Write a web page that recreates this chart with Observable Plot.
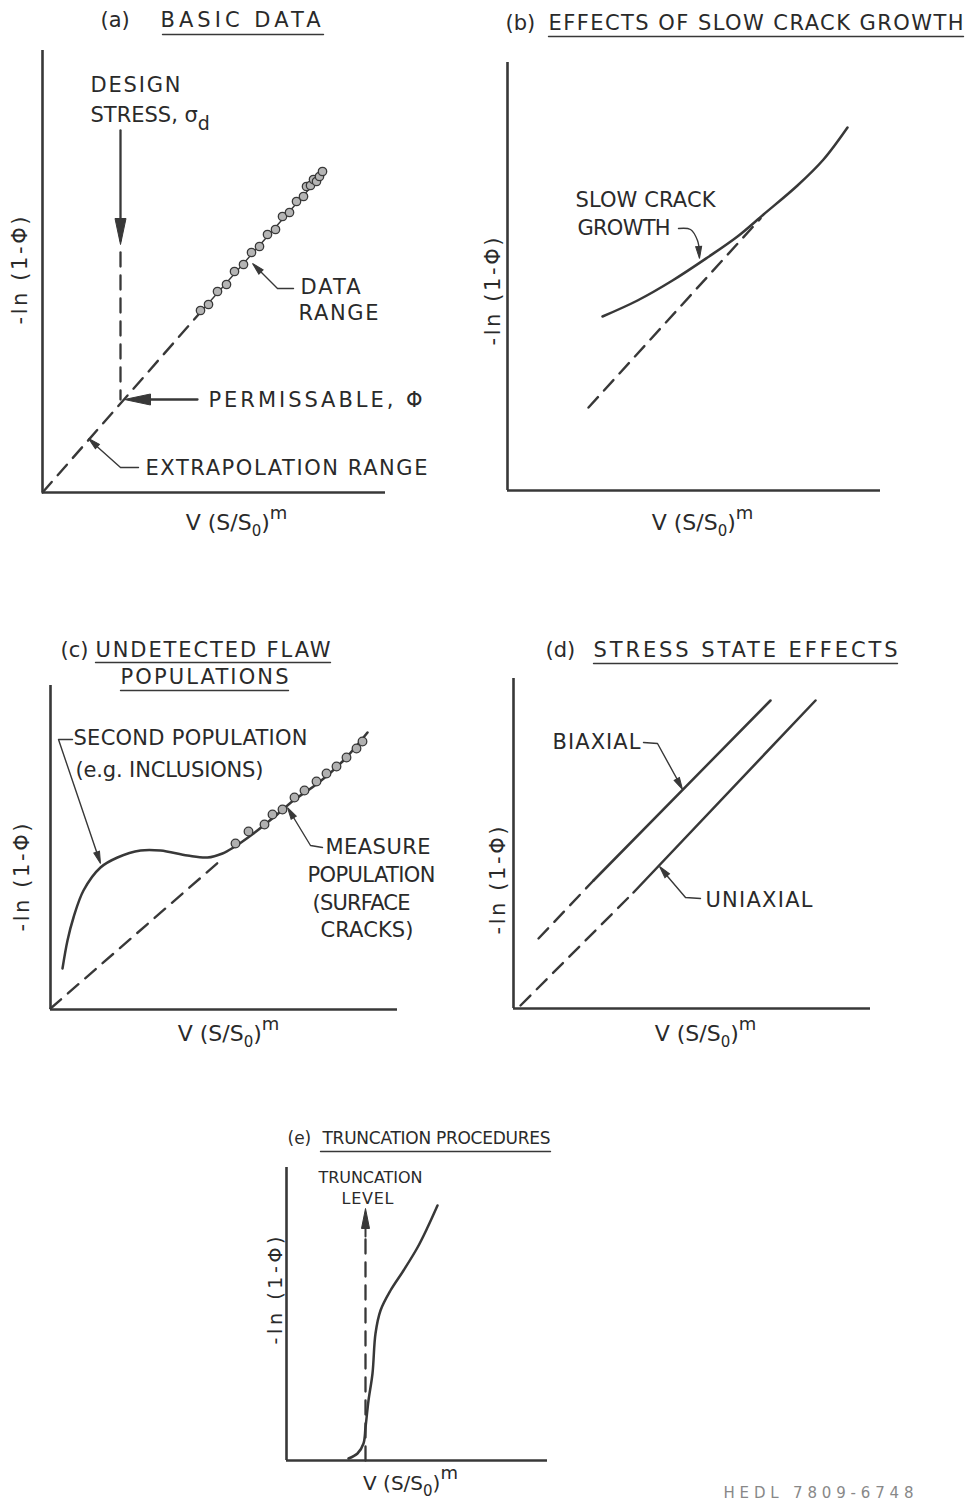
<!DOCTYPE html>
<html><head><meta charset="utf-8">
<script src="https://cdn.jsdelivr.net/npm/d3@7"></script>
<script src="https://cdn.jsdelivr.net/npm/@observablehq/plot@0.6"></script>
<style>
html,body{margin:0;padding:0;background:#fff;}
#page{position:relative;width:966px;height:1502px;overflow:hidden;background:#fff;}
#page > svg{position:absolute;}
</style></head><body><div id="page"></div>
<script>
// ---------- shared labels ----------
const YLABEL = "-ln (1-Φ)";
const XLABEL = "V (S/S0)m";

// ---------- (a) BASIC DATA ----------
const aFitDash = [{x:0,y:0},{x:156,y:178}];
const aFitLine = [{x:156,y:178},{x:283,y:322}];
const aData = [
  {x:158,y:182},{x:166,y:188},{x:175,y:201},{x:184,y:208},{x:192,y:221},{x:201,y:228},
  {x:209,y:240},{x:217,y:246},{x:225,y:258},{x:233,y:263},{x:240,y:276},{x:247,y:280},
  {x:254,y:291},{x:261,y:296},{x:264,y:306},{x:268,y:307},{x:271,y:313},{x:274,y:311},
  {x:277,y:316},{x:280,y:321}
];
const aDesignShaft = [{x:78,y:362},{x:78,y:252}];
const aDesignDash = [{x:78,y:240},{x:78,y:93}];
const aPermShaft = [{x:155,y:93},{x:90,y:93}];
const aExtrapLeader = [{x:96,y:25},{x:78,y:25},{x:50,y:50}];
const aRangeLeader = [{x:251,y:204},{x:235,y:204},{x:213,y:226}];
const aBigHeads = [{x1:78,y1:362,x:78,y:248},{x1:155,y1:93,x:82,y:93}];
const aSmallHeads = [{x1:78,y1:25,x:46,y:54},{x1:235,y1:204,x:210,y:229}];
const aLabels = [
  {x:48,y:407,t:"DESIGN"},{x:48,y:377,t:"STRESS, σd"},
  {x:258,y:205,t:"DATA"},{x:256,y:179,t:"RANGE"},
  {x:166,y:92,t:"PERMISSABLE, Φ"},{x:103,y:24,t:"EXTRAPOLATION RANGE"}
];
const aTitle = [{x:58,y:472,t:"(a)"},{x:118,y:472,t:"BASIC DATA"}];
const aUnder = [{x:120,y:458},{x:281,y:458}];
const aAxisLabels = {y:{x:-22,y:222}, x:{x:194,y:-30}};

// ---------- (b) EFFECTS OF SLOW CRACK GROWTH ----------
const bCurve = [{x:95,y:174},{x:130,y:190},{x:165,y:210},{x:200,y:233},{x:230,y:254},
  {x:256,y:276},{x:290,y:305},{x:316,y:331},{x:340,y:363}];
const bDash = [{x:81,y:83},{x:253,y:272}];
const bLeader = [{x:171,y:262},{x:183,y:261},{x:190,y:250},{x:192,y:238}];
const bHeads = [{x1:191,y1:246,x:192,y:232}];
const bLabels = [{x:68,y:290,t:"SLOW CRACK"},{x:70,y:262,t:"GROWTH"}];
const bTitle = [{x:-2,y:467,t:"(b)"},{x:41,y:467,t:"EFFECTS OF SLOW CRACK GROWTH"}];
const bUnder = [{x:41,y:454},{x:456,y:454}];
const bAxisLabels = {y:{x:-14,y:199}, x:{x:195,y:-32}};

// ---------- (c) UNDETECTED FLAW POPULATIONS ----------
const cCurve = [{x:12,y:41},{x:17,y:69},{x:23,y:92},{x:33,y:119},{x:50,y:142},{x:67,y:152},
  {x:90,y:159},{x:110,y:159},{x:137,y:154},{x:157,y:152},{x:172,y:156},{x:183,y:162},
  {x:203,y:176},{x:223,y:192},{x:243,y:209},{x:267,y:226},{x:293,y:249},{x:317,y:277}];
const cDash = [{x:0,y:1},{x:170,y:149}];
const cData = [{x:185,y:166},{x:198,y:178},{x:214,y:185},{x:222,y:195},{x:232,y:200},
  {x:244,y:212},{x:254,y:219},{x:266,y:228},{x:276,y:236},{x:286,y:243},{x:296,y:252},
  {x:306,y:261},{x:312,y:268}];
const cLeaderSecond = [{x:22,y:270},{x:8,y:270},{x:48,y:152}];
const cLeaderMeasure = [{x:272,y:162},{x:260,y:164},{x:240,y:197}];
const cHeads = [{x1:8,y1:270,x:50,y:146},{x1:260,y1:164,x:237,y:202}];
const cLabels = [
  {x:23,y:271,t:"SECOND POPULATION"},{x:25,y:239,t:"(e.g. INCLUSIONS)"},
  {x:275,y:162,t:"MEASURE"},{x:257,y:134,t:"POPULATION"},
  {x:262,y:106,t:"(SURFACE"},{x:270,y:79,t:"CRACKS)"}
];
const cTitle = [{x:10,y:359,t:"(c)"},{x:45,y:359,t:"UNDETECTED FLAW"},{x:70,y:332,t:"POPULATIONS"}];
const cUnder1 = [{x:45,y:347},{x:280,y:347}];
const cUnder2 = [{x:70,y:319},{x:238,y:319}];
const cAxisLabels = {y:{x:-28,y:132}, x:{x:178,y:-24}};

// ---------- (d) STRESS STATE EFFECTS ----------
const dBiSolid = [{x:80,y:128},{x:257,y:308}];
const dBiDash = [{x:25,y:70},{x:80,y:128}];
const dUniSolid = [{x:120,y:116},{x:302,y:308}];
const dUniDash = [{x:7,y:3},{x:120,y:116}];
const dLeaderBi = [{x:130,y:266},{x:144,y:265},{x:166,y:225}];
const dLeaderUni = [{x:187,y:110},{x:172,y:111},{x:149,y:138}];
const dHeads = [{x1:144,y1:265,x:169,y:219},{x1:172,y1:111,x:146,y:142}];
const dLabels = [{x:39,y:266,t:"BIAXIAL"},{x:192,y:108,t:"UNIAXIAL"}];
const dTitle = [{x:32,y:358,t:"(d)"},{x:80,y:358,t:"STRESS STATE EFFECTS"}];
const dUnder = [{x:80,y:345},{x:384,y:345}];
const dAxisLabels = {y:{x:-15,y:128}, x:{x:192,y:-25}};

// ---------- (e) TRUNCATION PROCEDURES ----------
const eCurve = [{x:62,y:2},{x:71,y:7},{x:77,y:17},{x:79,y:33},{x:82,y:60},{x:86,y:87},
  {x:89,y:127},{x:94,y:150},{x:104,y:170},{x:117,y:190},{x:131,y:213},{x:141,y:233},{x:151,y:255}];
const eTruncDash = [{x:79,y:0},{x:79,y:224}];
const eTruncShaft = [{x:79,y:224},{x:79,y:240}];
const eHeads = [{x1:79,y1:224,x:79,y:252}];
const eLabels = [{x:32,y:283,t:"TRUNCATION"},{x:55,y:262,t:"LEVEL"}];
const eTitle = [{x:1,y:322,t:"(e)"},{x:36,y:322,t:"TRUNCATION PROCEDURES"}];
const eUnder = [{x:34,y:309},{x:264,y:309}];
const eAxisLabels = {y:{x:-11,y:170}, x:{x:124,y:-23}};
const eDocNo = [{x:437,y:-33,t:"HEDL 7809-6748"}];

// ---------- styling ----------
const INK = "#383838";
const TXT = "#2a2a2a";
const FONT = "DejaVu Sans, Verdana, sans-serif";
const FIT = {
  "DESIGN":90, "DATA":60, "RANGE":80, "PERMISSABLE, Φ":214, "EXTRAPOLATION RANGE":282,
  "BASIC DATA":160, "SLOW CRACK":140, "GROWTH":93, "EFFECTS OF SLOW CRACK GROWTH":415,
  "SECOND POPULATION":234, "(e.g. INCLUSIONS)":188, "MEASURE":105, "POPULATION":128,
  "(SURFACE":98, "CRACKS)":93, "UNDETECTED FLAW":235, "POPULATIONS":168,
  "BIAXIAL":88, "UNIAXIAL":107, "STRESS STATE EFFECTS":304,
  "TRUNCATION":104, "LEVEL":52, "TRUNCATION PROCEDURES":228,
  [YLABEL]:108, "HEDL 7809-6748":190
};
const RICH = {
  [XLABEL]: [["V (S/S",0,null],["0",6,15],[")",-6,null],["m",-11,18]],
  "STRESS, σd": [["STRESS, σ",0,null],["d",8,19]]
};

const page = document.getElementById("page");
const ang = d => Math.atan2(d.x - d.x1, d.y - d.y1) * 180 / Math.PI;
function heads(data, L, W) {
  return Plot.dot(data, {x:"x", y:"y", rotate: ang, r: 1,
    symbol: {draw(c){ c.moveTo(0,0); c.lineTo(-W/2,L); c.lineTo(W/2,L); c.closePath(); }},
    fill: INK, stroke: INK, strokeWidth: 1});
}
const solid = (data, w=2.5, curve="linear") => Plot.line(data, {x:"x", y:"y", stroke:INK, strokeWidth:w, strokeLinecap:"round", curve});
const dashed = (data, w=2.4) => Plot.line(data, {x:"x", y:"y", stroke:INK, strokeWidth:w, strokeDasharray:"14,9"});
const thin = data => Plot.line(data, {x:"x", y:"y", stroke:INK, strokeWidth:1.4});
const texts = (data, size=21, opts={}) => Plot.text(data, {x:"x", y:"y", text:"t", textAnchor:"start",
  fontSize:size, fill:TXT, fontFamily:FONT, ...opts});
const axisLabels = (al, ys=21, xs=22) => [
  Plot.text([al.y], {x:"x", y:"y", text:() => YLABEL, rotate:-90, textAnchor:"middle", fontSize:ys, fill:TXT, fontFamily:FONT}),
  Plot.text([al.x], {x:"x", y:"y", text:() => XLABEL, textAnchor:"middle", fontSize:xs, fill:TXT, fontFamily:FONT})
];
const axes = () => [
  Plot.ruleY([0], {stroke:INK, strokeWidth:2.6}),
  Plot.ruleX([0], {stroke:INK, strokeWidth:2.6})
];

function post(svg){
  d3.select(svg).selectAll("text").each(function(){
    const t = this.textContent;
    if (RICH[t]) {
      const el = d3.select(this); el.text(null);
      for (const [s, dy, fs] of RICH[t]) {
        const ts = el.append("tspan").text(s);
        if (dy) ts.attr("dy", dy);
        if (fs) ts.attr("font-size", fs);
      }
    }
    if (FIT[t]) { this.setAttribute("textLength", FIT[t]); this.setAttribute("lengthAdjust", "spacing"); }
  });
}

function panel({left, top, width, height, ox, oy, lx, ly, marks}) {
  const svg = Plot.plot({
    width, height,
    marginLeft: ox - left, marginTop: oy - ly - top,
    marginRight: left + width - (ox + lx), marginBottom: top + height - oy,
    x: {domain: [0, lx], axis: null}, y: {domain: [0, ly], axis: null},
    style: {background: "transparent", fontFamily: FONT, overflow: "visible"},
    marks
  });
  svg.style.left = left + "px"; svg.style.top = top + "px";
  page.append(svg);
  post(svg);
}

// (a)
panel({left:0, top:0, width:480, height:545, ox:42, oy:492, lx:343, ly:442, marks:[
  ...axes(),
  dashed(aFitDash), thin(aFitLine),
  Plot.dot(aData, {x:"x", y:"y", r:4.2, fill:"#b5b5b5", stroke:INK, strokeWidth:1.3}),
  solid(aDesignShaft, 2.3), dashed(aDesignDash, 2.3), solid(aPermShaft, 2.3),
  thin(aExtrapLeader), thin(aRangeLeader),
  heads(aBigHeads, 26, 11), heads(aSmallHeads, 12, 6),
  texts(aLabels), texts(aTitle), thin(aUnder),
  ...axisLabels(aAxisLabels)
]});

// (b)
panel({left:480, top:0, width:486, height:545, ox:507, oy:490, lx:373, ly:428, marks:[
  ...axes(),
  solid(bCurve, 2.5, "catmull-rom"), dashed(bDash),
  Plot.line(bLeader, {x:"x", y:"y", stroke:INK, strokeWidth:1.4, curve:"catmull-rom"}),
  heads(bHeads, 12, 6),
  texts(bLabels), texts(bTitle), thin(bUnder),
  ...axisLabels(bAxisLabels)
]});

// (c)
panel({left:0, top:600, width:480, height:460, ox:50, oy:1009, lx:347, ly:324, marks:[
  ...axes(),
  solid(cCurve, 2.5, "catmull-rom"), dashed(cDash),
  Plot.dot(cData, {x:"x", y:"y", r:4.3, fill:"#b0b0b0", stroke:INK, strokeWidth:1.3}),
  thin(cLeaderSecond), thin(cLeaderMeasure),
  heads(cHeads, 12, 6),
  texts(cLabels), texts(cTitle), thin(cUnder1), thin(cUnder2),
  ...axisLabels(cAxisLabels)
]});

// (d)
panel({left:480, top:600, width:486, height:460, ox:513, oy:1008, lx:357, ly:330, marks:[
  ...axes(),
  solid(dBiSolid), dashed(dBiDash), solid(dUniSolid), dashed(dUniDash),
  thin(dLeaderBi), thin(dLeaderUni),
  heads(dHeads, 12, 6),
  texts(dLabels), texts(dTitle), thin(dUnder),
  ...axisLabels(dAxisLabels)
]});

// (e)
panel({left:250, top:1100, width:716, height:402, ox:286, oy:1460, lx:261, ly:293, marks:[
  ...axes(),
  solid(eCurve, 2.5, "catmull-rom"), dashed(eTruncDash, 2.3), solid(eTruncShaft, 2),
  heads(eHeads, 20, 8),
  texts(eLabels, 16), texts(eTitle, 17), thin(eUnder),
  ...axisLabels(eAxisLabels, 19, 20),
  texts(eDocNo, 15, {fill:"#888"})
]});
</script>
</body></html>
